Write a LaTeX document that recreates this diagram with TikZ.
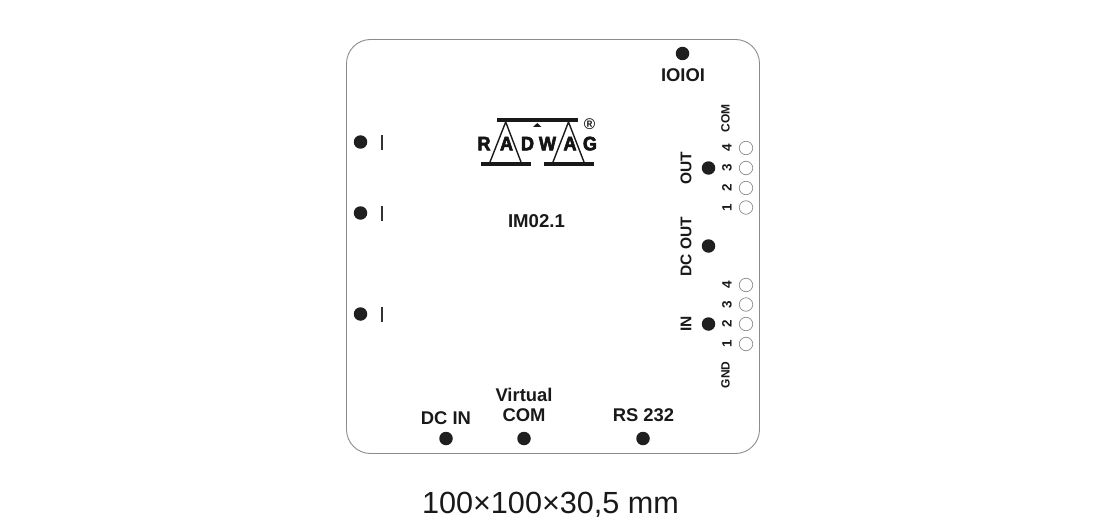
\documentclass[tikz,border=0pt]{standalone}
\usepackage{fontspec}
\setmainfont{Liberation Sans}
\newfontfamily\logofont[FakeBold=3.2,FakeStretch=0.93]{Liberation Sans Bold}
\tikzset{
  x=1pt,y=-1pt,
  dot/.style={circle,fill=black!88,draw=none,minimum size=13.5pt,inner sep=0pt},
  pin/.style={circle,draw=black!45,line width=0.7pt,fill=white,minimum size=13.5pt,inner sep=0pt},
  lab/.style={inner sep=0pt,font=\bfseries\fontsize{18.4}{20}\selectfont,text=black!90},
  vlab/.style={inner sep=0pt,font=\bfseries\fontsize{15.5}{18}\selectfont,rotate=90,text=black!90},
  slab/.style={inner sep=0pt,font=\bfseries\fontsize{12}{14}\selectfont,rotate=90,text=black!90},
  numlab/.style={inner sep=0pt,font=\bfseries\fontsize{13.5}{14}\selectfont,rotate=90,text=black!90},
  logo/.style={inner sep=0pt,anchor=base,font=\logofont\fontsize{19.5}{20}\selectfont,text=black!92},
}
\begin{document}
\begin{tikzpicture}
\useasboundingbox (0,0) rectangle (1100,524);
\draw[black!45,line width=0.9pt,rounded corners=24pt] (346.5,39.5) rectangle (759.5,453.5);
% dots
\node[dot] (io) at (682.5,53.5) {};
\node[lab] (iol) at (683,75) {IOIOI};
\node[dot] (l1) at (360.5,142) {};
\node[dot] (l2) at (360.5,213) {};
\node[dot] (l3) at (360.5,314) {};
\fill[black!80] (381,135) rectangle (383,150);
\fill[black!80] (381,206) rectangle (383,221);
\fill[black!80] (381,306.5) rectangle (383,321.5);
\node[dot] (out) at (708.5,168) {};
\node[dot] (dco) at (708.5,246) {};
\node[dot] (in) at (708.5,324) {};
\node[dot] (dcin) at (446,438.5) {};
\node[dot] (vcom) at (524,438.5) {};
\node[dot] (rs) at (643,438.5) {};
% labels
\node[vlab] (outl) at (686,168.5) {OUT};
\node[vlab] (dcol) at (686,246.5) {DC OUT};
\node[vlab] (inl) at (686,324) {IN};
\node[slab] (coml) at (725.5,118.5) {COM};
\node[slab] (gndl) at (725.5,375) {GND};
\node[lab] (dcinl) at (446,418.5) {DC IN};
\node[lab] (v1) at (524,395) {Virtual};
\node[lab] (v2) at (524,415) {COM};
\node[lab] (rsl) at (643.5,415.5) {RS 232};
\node[lab,font=\bfseries\fontsize{18.6}{20}\selectfont] (im) at (536.5,221.5) {IM02.1};
\node[inner sep=0pt,anchor=base,font=\fontsize{30.6}{36}\selectfont,text=black!90] (dim) at (550.5,513.5) {100×100×30,5 mm};
% pins and numbers
\foreach \n/\y in {4/148,3/168,2/188,1/207.5}{
  \node[pin] (a\n) at (746,\y) {};
  \node[numlab] (an\n) at (727,\y) {\n};
}
\foreach \n/\y in {4/285,3/304.5,2/324,1/344}{
  \node[pin] (b\n) at (746,\y) {};
  \node[numlab] (bn\n) at (727,\y) {\n};
}
% logo
\fill[black!90] (496.7,118.3) rectangle (578,122.3);
\fill[black!90] (480.7,161.7) rectangle (530.7,165.7);
\fill[black!90] (544,161.7) rectangle (594,165.7);
\draw[black!90,line width=1.4pt] (490,162) -- (505.7,122) -- (521,162);
\draw[black!90,line width=1.4pt] (553,162) -- (568.5,122) -- (584,162);
\fill[black!90] (533,127) -- (537.3,123) -- (541.5,127) -- cycle;
\node[logo] (r) at (484,150.3) {R};
\node[logo] (a) at (506.5,150.3) {A};
\node[logo] (d) at (527.5,150.3) {D};
\node[logo] (w) at (547.5,150.3) {W};
\node[logo] (a2) at (570,150.3) {A};
\node[logo] (g) at (590,150.3) {G};
\node[inner sep=0pt,font=\bfseries\fontsize{15.5}{16}\selectfont,text=black!90] (reg) at (589.5,124) {®};
\end{tikzpicture}
\end{document}
